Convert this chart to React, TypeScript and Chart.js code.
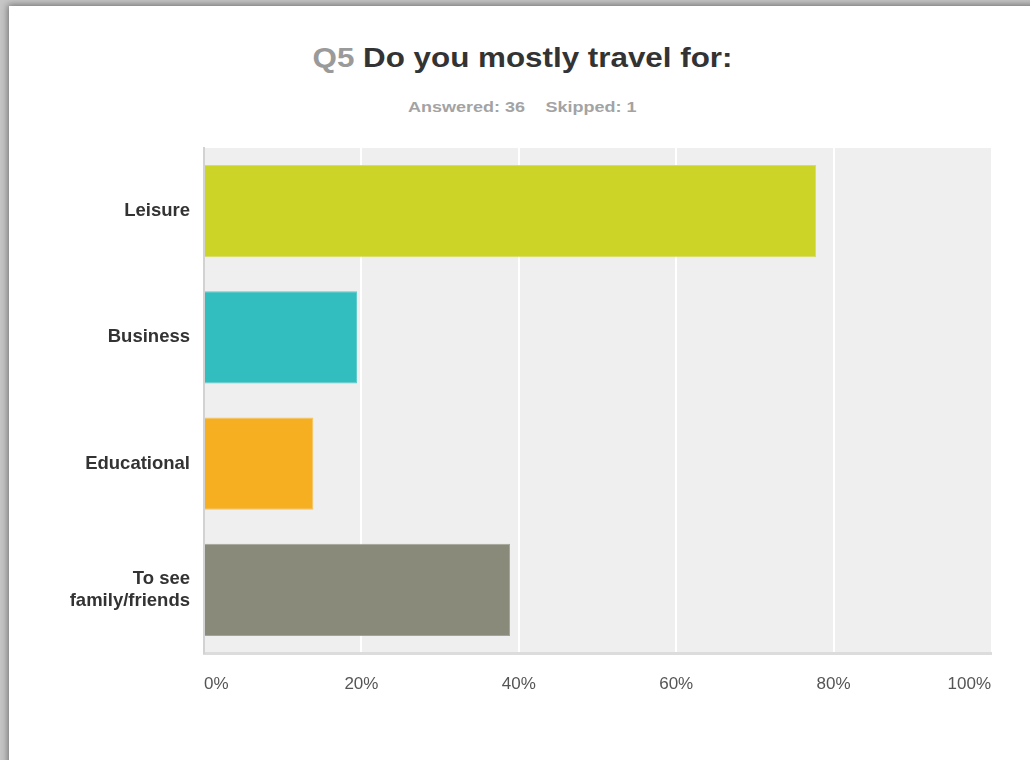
import React, { useEffect, useRef } from "react";
import { Chart, registerables } from "chart.js";

Chart.register(...registerables);

// ---- data ----
const categories: (string | string[])[] = ["Leisure", "Business", "Educational", ["To see", "family/friends"]];
const percentages = [77.78, 19.44, 13.89, 38.89];
const barColors = ["#CDD428", "#32BDBF", "#F6AF20", "#898A79"];
const barBorders = ["#D8DE5C", "#5FCBCD", "#F8C25A", "#A3A496"];
const xTickValues = [0, 20, 40, 60, 80, 100];
const titleNumber = "Q5";
const titleText = "Do you mostly travel for:";
const answeredText = "Answered: 36";
const skippedText = "Skipped: 1";

const FONT = "'Liberation Sans', Arial, Helvetica, sans-serif";

const plotBackground = {
  id: "plotBackground",
  beforeDraw(chart: any) {
    const { ctx, chartArea: a } = chart;
    ctx.save();
    ctx.fillStyle = "#efefef";
    ctx.fillRect(a.left, a.top, a.right - a.left, a.bottom - a.top);
    ctx.restore();
  },
};

export default function App() {
  const canvasRef = useRef<HTMLCanvasElement | null>(null);

  useEffect(() => {
    const canvas = canvasRef.current;
    if (!canvas) return;
    const chart = new Chart(canvas, {
      type: "bar",
      data: {
        labels: categories as any,
        datasets: [
          {
            data: percentages,
            backgroundColor: barColors,
            borderColor: barBorders,
            borderWidth: 1,
            barPercentage: 0.729,
            categoryPercentage: 1,
          },
        ],
      },
      options: {
        indexAxis: "y",
        responsive: false,
        animation: false,
        layout: { padding: { top: 148, right: 39, left: 0, bottom: 0 } },
        plugins: {
          legend: { display: false },
          title: { display: false },
          tooltip: { enabled: false },
        },
        scales: {
          x: {
            min: 0,
            max: 100,
            afterBuildTicks(scale: any) {
              scale.ticks = xTickValues.map((v) => ({ value: v }));
            },
            afterFit(scale: any) {
              scale.height = 107;
            },
            grid: {
              drawTicks: false,
              lineWidth: 2,
              color: (ctx: any) =>
                ctx.tick && (ctx.tick.value === 0 || ctx.tick.value === 100) ? "rgba(0,0,0,0)" : "#ffffff",
            },
            border: { display: true, color: "#dcdcdc", width: 3 },
            ticks: {
              align: "inner",
              padding: 21,
              color: "#555555",
              font: { family: FONT, size: 17 },
              callback: (v: any) => v + "%",
            },
          },
          y: {
            afterFit(scale: any) {
              scale.width = 204;
            },
            grid: { display: false, drawTicks: false },
            border: { display: true, color: "#d2d2d2", width: 2 },
            ticks: {
              padding: 14,
              color: "#333333",
              font: { family: FONT, size: 18.5, weight: "bold", lineHeight: 1.14 },
            },
          },
        },
      },
      plugins: [plotBackground],
    } as any);
    return () => chart.destroy();
  }, []);

  return (
    <div
      style={{
        position: "fixed",
        left: 0,
        top: 0,
        width: 1030,
        height: 760,
        overflow: "hidden",
        background: "#c6c6c6",
      }}
    >
      <div
        style={{
          position: "absolute",
          left: 9,
          top: 6,
          width: 1100,
          height: 800,
          background: "#ffffff",
          boxShadow: "0 0 7px 1px rgba(0,0,0,0.45)",
        }}
      />
      <div
        style={{
          position: "absolute",
          left: 0,
          top: 43.5,
          width: 1045.6,
          textAlign: "center",
          fontFamily: FONT,
          fontWeight: "bold",
          fontSize: 28,
          lineHeight: "28px",
          whiteSpace: "nowrap",
        }}
      >
        <span style={{ display: "inline-block", transform: "scaleX(1.12)" }}>
          <span style={{ color: "#9a9a9a" }}>{titleNumber}</span>{" "}
          <span style={{ color: "#333333" }}>{titleText}</span>
        </span>
      </div>
      <div
        style={{
          position: "absolute",
          left: 0,
          top: 99.2,
          width: 1044,
          textAlign: "center",
          fontFamily: FONT,
          fontWeight: "bold",
          fontSize: 15,
          lineHeight: "15px",
          color: "#a3a3a3",
          whiteSpace: "nowrap",
        }}
      >
        <span style={{ display: "inline-block", transform: "scaleX(1.2)" }}>
          <span>{answeredText}</span>
          <span style={{ display: "inline-block", width: 17 }} />
          <span>{skippedText}</span>
        </span>
      </div>
      <canvas
        ref={canvasRef}
        width={1030}
        height={760}
        style={{ position: "absolute", left: 0, top: 0, width: 1030, height: 760 }}
      />
    </div>
  );
}
